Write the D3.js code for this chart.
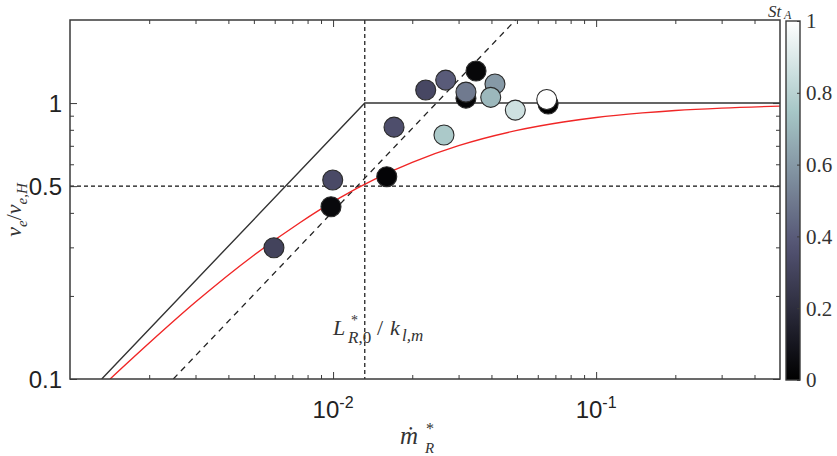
<!DOCTYPE html>
<html><head><meta charset="utf-8">
<script src="https://cdn.jsdelivr.net/npm/d3@7"></script>
<style>body{margin:0;background:#fff}svg{display:block}</style>
</head><body>
<svg id="c" width="837" height="456"></svg>
<script>
// ---- data ----
const ptX  = [0.00596, 0.00982, 0.00997, 0.0160, 0.01705, 0.0225, 0.0268, 0.0264, 0.0320, 0.0320, 0.03495, 0.04125, 0.03975, 0.0493, 0.0657, 0.0649];
const ptY  = [0.299,   0.421,   0.526,   0.541,  0.818,   1.115,  1.211,  0.766,  1.042,  1.096,  1.306,   1.172,   1.049,   0.943,  0.992,  1.030];
const ptSt = [0.30,    0.04,    0.33,    0.02,   0.35,    0.32,   0.40,   0.76,   0.02,   0.50,   0.03,    0.60,    0.70,    0.86,   0.0,    1.0];
const kneeX = [0.00132, 0.0132, 0.5];
const kneeY = [0.1, 1, 1];
const diagX = [0.00247, 0.0494];
const diagY = [0.1, 2];
const refX0 = 0.0132;
const refY0 = 0.5;
const redX = [0.00142, 0.002, 0.003, 0.005, 0.0075, 0.01, 0.015, 0.02, 0.03, 0.05, 0.075, 0.1, 0.15, 0.2, 0.3, 0.5];
const redY = [0.100, 0.135, 0.190, 0.281, 0.369, 0.439, 0.540, 0.610, 0.701, 0.796, 0.854, 0.887, 0.921, 0.940, 0.959, 0.975];
const xMajor = [0.01, 0.1];
const xMajorExp = ["-2", "-1"];
const xMinor = [0.002,0.003,0.004,0.005,0.006,0.007,0.008,0.009,0.02,0.03,0.04,0.05,0.06,0.07,0.08,0.09,0.2,0.3,0.4];
const yMajor = [0.1, 0.5, 1];
const yMajorLabels = ["0.1", "0.5", "1"];
const yMinor = [0.2,0.3,0.4,0.6,0.7,0.8,0.9];
const cbTicks = [0, 0.2, 0.4, 0.6, 0.8, 1];
const cbLabels = ["0", "0.2", "0.4", "0.6", "0.8", "1"];

// ---- layout ----
const L = 70, R = 780, T = 20, B = 379;
const x = d3.scaleLog().domain([0.001, 0.5]).range([L, R]);
const y = d3.scaleLog().domain([0.1, 2]).range([B, T]);
const svg = d3.select("#c");
const axisCol = "#3a3a3a";
const serif = "'Liberation Serif','DejaVu Serif',serif";
const sans = "'Liberation Sans',Arial,Helvetica,sans-serif";

function bone(t){
  t = Math.max(0, Math.min(1, t));
  const c = v => Math.max(0, Math.min(1, v));
  const hr = c(t/0.375), hg = c((t-0.375)/0.375), hb = c((t-0.75)/0.25);
  const r = (7*t + hb)/8, g = (7*t + hg)/8, b = (7*t + hr)/8;
  return d3.rgb(r*255, g*255, b*255).toString();
}

svg.append("defs").append("clipPath").attr("id","clip")
  .append("rect").attr("x",L).attr("y",T).attr("width",R-L).attr("height",B-T);

const plot = svg.append("g").attr("clip-path","url(#clip)");

// dashed reference lines
plot.append("line").attr("x1",L).attr("x2",R).attr("y1",y(refY0)).attr("y2",y(refY0))
  .attr("stroke","#111").attr("stroke-width",1.2).attr("stroke-dasharray","4,3");
plot.append("line").attr("x1",x(refX0)).attr("x2",x(refX0)).attr("y1",T).attr("y2",B)
  .attr("stroke","#111").attr("stroke-width",1.2).attr("stroke-dasharray","4,3");
const ln = d3.line().x(d=>x(d[0])).y(d=>y(d[1]));
plot.append("path").attr("d", ln(d3.zip(diagX, diagY)))
  .attr("fill","none").attr("stroke","#222").attr("stroke-width",1.3).attr("stroke-dasharray","6,5");
plot.append("path").attr("d", ln(d3.zip(kneeX, kneeY)))
  .attr("fill","none").attr("stroke","#333").attr("stroke-width",1.4);
plot.append("path").attr("d", d3.line().curve(d3.curveMonotoneX).x(d=>x(d[0])).y(d=>y(d[1]))(d3.zip(redX, redY)))
  .attr("fill","none").attr("stroke","#f02626").attr("stroke-width",1.4);

// points
plot.selectAll("circle.pt").data(d3.range(ptX.length)).join("circle")
  .attr("class","pt")
  .attr("cx", i=>x(ptX[i])).attr("cy", i=>y(ptY[i])).attr("r", 10)
  .attr("fill", i=>bone(ptSt[i])).attr("stroke","#2a2a2a").attr("stroke-width",1.1);

// label inside plot
const lab = svg.append("text").attr("font-family",serif).attr("font-size",22).attr("fill","#333");
lab.append("tspan").attr("x",333).attr("y",335).attr("font-style","italic").text("L");
lab.append("tspan").attr("x",351).attr("y",325).attr("font-size",14).text("*");
lab.append("tspan").attr("x",348).attr("y",343).attr("font-size",17).attr("font-style","italic").text("R");
lab.append("tspan").attr("font-size",17).text(",0");
lab.append("tspan").attr("x",377).attr("y",335).text("/");
lab.append("tspan").attr("x",390).attr("y",335).attr("font-style","italic").text("k");
lab.append("tspan").attr("x",402).attr("y",341).attr("font-size",17).attr("font-style","italic").text("l,m");

// axes: ticks (inward, mirrored)
const gAx = svg.append("g");
function xt(vals, len){
  gAx.append("g").attr("transform",`translate(0,${B})`)
    .call(d3.axisBottom(x).tickValues(vals).tickSize(-len).tickFormat(""))
    .call(g=>{g.select(".domain").remove(); g.selectAll("line").attr("stroke",axisCol);});
  gAx.append("g").attr("transform",`translate(0,${T})`)
    .call(d3.axisTop(x).tickValues(vals).tickSize(-len).tickFormat(""))
    .call(g=>{g.select(".domain").remove(); g.selectAll("line").attr("stroke",axisCol);});
}
function yt(vals, len){
  gAx.append("g").attr("transform",`translate(${L},0)`)
    .call(d3.axisLeft(y).tickValues(vals).tickSize(-len).tickFormat(""))
    .call(g=>{g.select(".domain").remove(); g.selectAll("line").attr("stroke",axisCol);});
  gAx.append("g").attr("transform",`translate(${R},0)`)
    .call(d3.axisRight(y).tickValues(vals).tickSize(-len).tickFormat(""))
    .call(g=>{g.select(".domain").remove(); g.selectAll("line").attr("stroke",axisCol);});
}
xt(xMinor, 4); xt(xMajor, 7);
yt(yMinor, 4); yt(yMajor, 7);
svg.append("rect").attr("x",L).attr("y",T).attr("width",R-L).attr("height",B-T)
  .attr("fill","none").attr("stroke",axisCol).attr("stroke-width",1.5);

// tick labels
xMajor.forEach((v,i)=>{
  const t = svg.append("text").attr("x",x(v)).attr("y",418).attr("text-anchor","middle")
    .attr("font-family",sans).attr("font-size",24).attr("fill","#222");
  t.append("tspan").text("10");
  t.append("tspan").attr("font-size",16).attr("dy",-10).text(xMajorExp[i]);
});
yMajor.forEach((v,i)=>{
  svg.append("text").attr("x",62).attr("y",y(v)).attr("dy","0.36em").attr("text-anchor","end")
    .attr("font-family",sans).attr("font-size",24).attr("fill","#222").text(yMajorLabels[i]);
});

// axis titles
const xl = svg.append("text").attr("font-family",serif).attr("font-size",25).attr("fill","#333");
xl.append("tspan").attr("x",400).attr("y",444).attr("font-style","italic").text("ṁ");
xl.append("tspan").attr("x",426).attr("y",434).attr("font-size",16).text("*");
xl.append("tspan").attr("x",425).attr("y",453).attr("font-size",15).attr("font-style","italic").text("R");

const yl = svg.append("text").attr("transform","translate(21,210) rotate(-90)").attr("text-anchor","middle")
  .attr("font-family",serif).attr("font-size",22).attr("fill","#333");
yl.append("tspan").attr("font-style","italic").text("v");
yl.append("tspan").attr("font-size",15).attr("font-style","italic").attr("dy",6).text("e");
yl.append("tspan").attr("dy",-6).text("/");
yl.append("tspan").attr("font-style","italic").text("v");
yl.append("tspan").attr("font-size",15).attr("font-style","italic").attr("dy",6).text("e,H");

// colorbar
const cbL = 786, cbR = 800, cbT = 21, cbB = 380;
const cy = d3.scaleLinear().domain([0,1]).range([cbB, cbT]);
const grad = svg.select("defs").append("linearGradient").attr("id","bone")
  .attr("x1",0).attr("y1",1).attr("x2",0).attr("y2",0);
d3.range(0, 1.0001, 0.05).forEach(t=>{
  grad.append("stop").attr("offset",t).attr("stop-color",bone(t));
});
svg.append("rect").attr("x",cbL).attr("y",cbT).attr("width",cbR-cbL).attr("height",cbB-cbT)
  .attr("fill","url(#bone)").attr("stroke",axisCol).attr("stroke-width",1.4);
svg.append("g").attr("transform",`translate(${cbR},0)`)
  .call(d3.axisRight(cy).tickValues(cbTicks).tickSize(-3).tickFormat(""))
  .call(g=>{g.select(".domain").remove(); g.selectAll("line").attr("stroke",axisCol);});
cbTicks.forEach((v,i)=>{
  svg.append("text").attr("x",806).attr("y",cy(v)).attr("dy","0.35em")
    .attr("font-family",serif).attr("font-size",21).attr("fill","#333").text(cbLabels[i]);
});
const ct = svg.append("text").attr("font-family",serif).attr("font-size",17).attr("fill","#333");
ct.append("tspan").attr("x",768).attr("y",17).attr("font-style","italic").text("St");
ct.append("tspan").attr("x",784).attr("y",19).attr("font-size",12).attr("font-style","italic").text("A");
</script>
</body></html>
